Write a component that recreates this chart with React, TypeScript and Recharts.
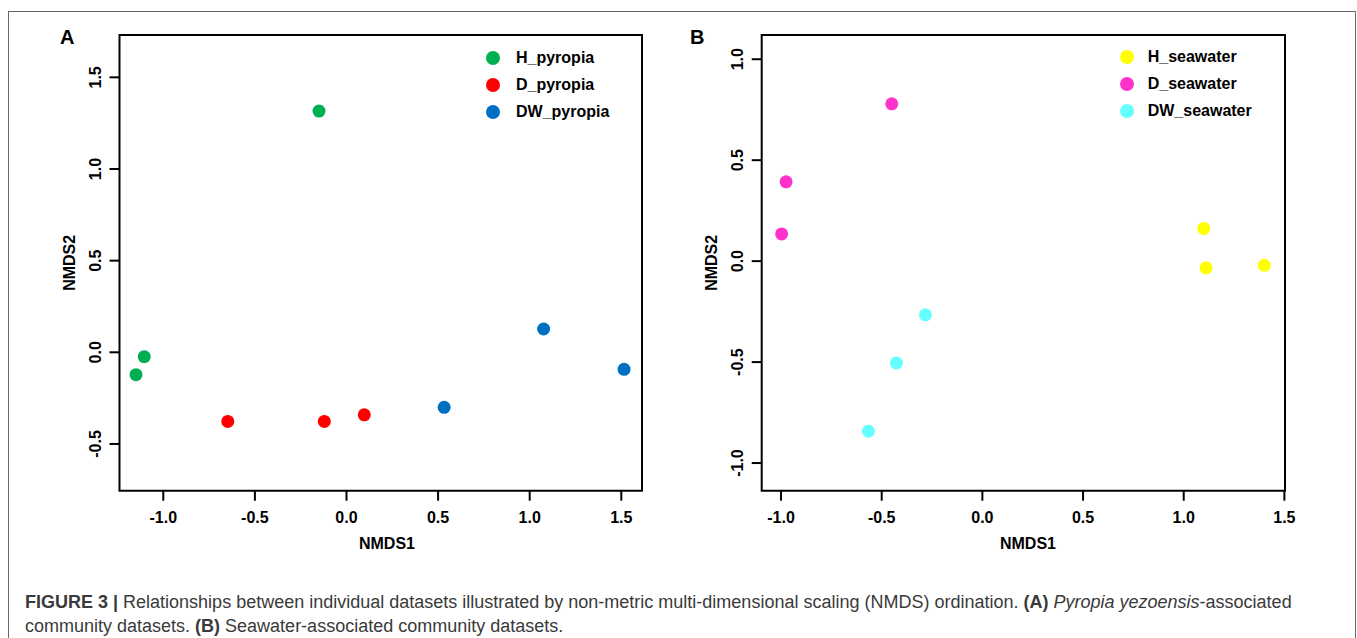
import { ScatterChart, Scatter, XAxis, YAxis, ReferenceArea, Legend } from 'recharts';

const FONT = '"Liberation Sans", Arial, Helvetica, sans-serif';

// panel A: Pyropia-associated datasets
const hPyropia = [
  { x: -0.15, y: 1.316 },
  { x: -1.104, y: -0.024 },
  { x: -1.149, y: -0.122 },
];
const dPyropia = [
  { x: -0.648, y: -0.377 },
  { x: -0.121, y: -0.377 },
  { x: 0.097, y: -0.341 },
];
const dwPyropia = [
  { x: 0.533, y: -0.3 },
  { x: 1.076, y: 0.127 },
  { x: 1.515, y: -0.093 },
];

// panel B: seawater-associated datasets
const hSeawater = [
  { x: 1.099, y: 0.162 },
  { x: 1.111, y: -0.033 },
  { x: 1.4, y: -0.021 },
];
const dSeawater = [
  { x: -0.45, y: 0.779 },
  { x: -0.975, y: 0.393 },
  { x: -0.997, y: 0.135 },
];
const dwSeawater = [
  { x: -0.283, y: -0.266 },
  { x: -0.427, y: -0.505 },
  { x: -0.566, y: -0.842 },
];

const xTicksA = [-1, -0.5, 0, 0.5, 1, 1.5];
const yTicksA = [-0.5, 0, 0.5, 1, 1.5];
const xDomainA = [-1.239, 1.613];
const yDomainA = [-0.755, 1.731];

const xTicksB = [-1, -0.5, 0, 0.5, 1, 1.5];
const yTicksB = [-1, -0.5, 0, 0.5, 1];
const xDomainB = [-1.096, 1.503];
const yDomainB = [-1.137, 1.12];

const fmt = (v: number) => v.toFixed(1);

const dot = (color: string) => (props: any) =>
  <circle cx={props.cx} cy={props.cy} r={6.5} fill={color} />;

const YTick = (props: any) => {
  const { x, y, payload } = props;
  const tx = x - 8.8;
  return (
    <text x={tx} y={y} transform={`rotate(-90 ${tx} ${y})`} textAnchor="middle"
      fontFamily={FONT} fontWeight="bold" fontSize={16} fill="#000">
      {fmt(payload.value)}
    </text>
  );
};

const XTick = (props: any) => {
  const { x, y, payload } = props;
  return (
    <text x={x} y={y + 22.3} textAnchor="middle"
      fontFamily={FONT} fontWeight="bold" fontSize={16} fill="#000">
      {fmt(payload.value)}
    </text>
  );
};

// recharts sorts legend items by name; keep the series order instead
const legendRows = (gap: number, order: string[]) => (props: any) => {
  const items = [...(props.payload || [])].sort((a: any, b: any) => order.indexOf(a.value) - order.indexOf(b.value));
  return (
    <div style={{ fontFamily: FONT, fontWeight: 'bold', fontSize: 16, color: '#000' }}>
      {items.map((e: any) => (
        <div key={e.value} style={{ height: 27, display: 'flex', alignItems: 'center' }}>
          <span style={{ width: 14, height: 14, borderRadius: 7, background: e.color, display: 'inline-block', flex: 'none' }} />
          <span style={{ marginLeft: gap, whiteSpace: 'nowrap' }}>{e.value}</span>
        </div>
      ))}
    </div>
  );
};

const titleStyle = { fontFamily: FONT, fontWeight: 'bold', fontSize: 16, fill: '#000' } as const;

function Panel(props: {
  width: number; left: number; plotRight: number;
  xDomain: number[]; yDomain: number[]; xTicks: number[]; yTicks: number[];
  series: { name: string; color: string; data: { x: number; y: number }[] }[];
  legendTop: number; legendLeft: number; legendGap: number; xTitleX: number;
}) {
  const height = 570;
  const top = 35;
  const bottom = 490.7;
  const yAxisW = 60;
  const xAxisH = 60;
  const order = props.series.map((s) => s.name);
  return (
    <ScatterChart
      width={props.width}
      height={height}
      margin={{ top, right: props.width - props.plotRight, bottom: height - bottom - xAxisH, left: props.left - yAxisW }}
    >
      <XAxis
        type="number" dataKey="x" domain={props.xDomain} ticks={props.xTicks} allowDataOverflow
        axisLine={false} tickLine={{ stroke: '#000', strokeWidth: 2 }} tickSize={10} tickMargin={0}
        height={xAxisH} tick={<XTick />} interval={0}
        label={{
          content: () => <text x={props.xTitleX} y={548.5} textAnchor="middle" style={titleStyle}>NMDS1</text>,
        }}
      />
      <YAxis
        type="number" dataKey="y" domain={props.yDomain} ticks={props.yTicks} allowDataOverflow
        axisLine={false} tickLine={{ stroke: '#000', strokeWidth: 2 }} tickSize={10} tickMargin={0}
        width={yAxisW} tick={<YTick />} interval={0}
        label={{
          content: () => {
            const cx = props.left - 50 + 5.7;
            const cy = (top + bottom) / 2;
            return <text x={cx} y={cy} transform={`rotate(-90 ${cx} ${cy})`} textAnchor="middle" style={titleStyle}>NMDS2</text>;
          },
        }}
      />
      <ReferenceArea
        x1={props.xDomain[0]} x2={props.xDomain[1]} y1={props.yDomain[0]} y2={props.yDomain[1]}
        fill="none" fillOpacity={0} stroke="#000" strokeWidth={2} ifOverflow="visible"
      />
      <Legend
        layout="horizontal" verticalAlign="middle" align="center"
        wrapperStyle={{ top: props.legendTop, left: props.legendLeft, width: 180 }}
        content={legendRows(props.legendGap, order)}
      />
      {props.series.map((s) => (
        <Scatter key={s.name} name={s.name} data={s.data} fill={s.color}
          shape={dot(s.color)} isAnimationActive={false} />
      ))}
    </ScatterChart>
  );
}

export default function App() {
  return (
    <div style={{ position: 'absolute', left: 0, top: 0, width: 1357, height: 638, overflow: 'hidden', background: '#fff' }}>
      <div style={{ position: 'absolute', left: 8, top: 11, width: 1346, height: 640, borderTop: '1px solid #666', borderLeft: '1px solid #666', borderRight: '1px solid #666' }} />
      <div style={{ position: 'absolute', left: 0, top: 0 }}>
        <Panel
          width={680} left={119.5} plotRight={642}
          xDomain={xDomainA} yDomain={yDomainA} xTicks={xTicksA} yTicks={yTicksA}
          series={[
            { name: 'H_pyropia', color: '#00B050', data: hPyropia },
            { name: 'D_pyropia', color: '#FF0000', data: dPyropia },
            { name: 'DW_pyropia', color: '#0070C0', data: dwPyropia },
          ]}
          legendTop={44.8} legendLeft={486.3} legendGap={15.7} xTitleX={387}
        />
      </div>
      <div style={{ position: 'absolute', left: 680, top: 0 }}>
        <Panel
          width={677} left={81.7} plotRight={605}
          xDomain={xDomainB} yDomain={yDomainB} xTicks={xTicksB} yTicks={yTicksB}
          series={[
            { name: 'H_seawater', color: '#FFFF00', data: hSeawater },
            { name: 'D_seawater', color: '#FF33CC', data: dSeawater },
            { name: 'DW_seawater', color: '#66FFFF', data: dwSeawater },
          ]}
          legendTop={43.2} legendLeft={439.7} legendGap={14} xTitleX={348}
        />
      </div>
      <div style={{ position: 'absolute', left: 60, top: 27, fontFamily: FONT, fontWeight: 'bold', fontSize: 20, lineHeight: '20px' }}>A</div>
      <div style={{ position: 'absolute', left: 690, top: 27, fontFamily: FONT, fontWeight: 'bold', fontSize: 20, lineHeight: '20px' }}>B</div>
      <div style={{ position: 'absolute', left: 25, top: 590, fontFamily: FONT, fontSize: 18, lineHeight: '24px', color: '#3a3a3a', whiteSpace: 'nowrap' }}>
        <b>FIGURE 3 |</b> Relationships between individual datasets illustrated by non-metric multi-dimensional scaling (NMDS) ordination. <b>(A)</b> <i>Pyropia yezoensis</i>-associated
        <br />
        community datasets. <b>(B)</b> Seawater-associated community datasets.
      </div>
    </div>
  );
}
